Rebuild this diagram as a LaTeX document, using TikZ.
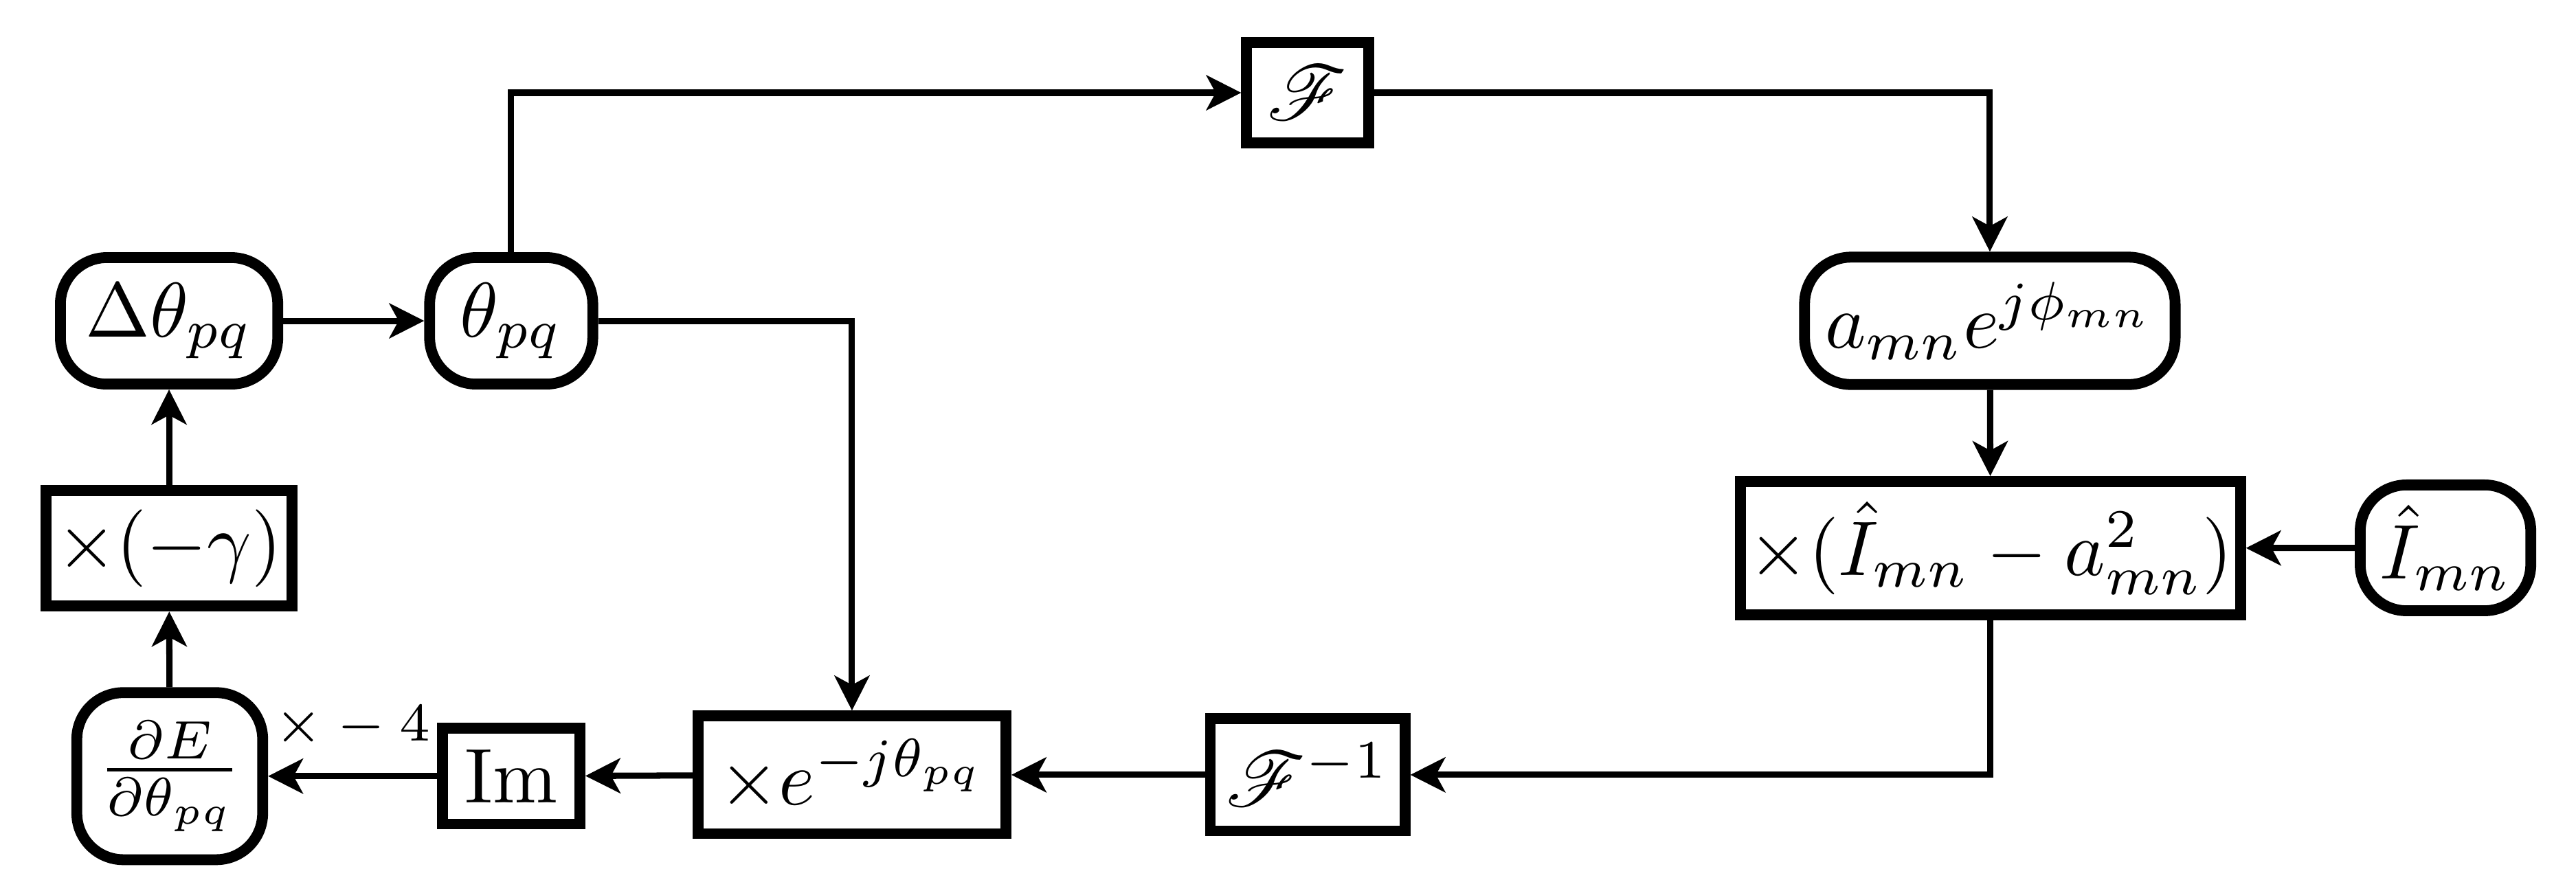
\documentclass[tikz,border=0pt]{standalone}
\usepackage{mathrsfs}
\usetikzlibrary{arrows.meta}

\tikzset{
 blk/.style={draw, line width=1.4pt, inner sep=1pt},
 rblk/.style={blk, rounded corners=6pt},
 flow/.style={line width=0.8pt, -{Stealth[length=4.5pt,width=4.5pt,inset=1.2pt]}},
}

\begin{document}
\begin{tikzpicture}
 \useasboundingbox (0,0) rectangle (11.686,4.043);
 % upper row
 \node[rblk, minimum width=0.986cm, minimum height=0.574cm] (dtheta) at (0.767,2.587) {$\Delta\theta_{pq}$};
 \node[rblk, minimum width=0.740cm, minimum height=0.574cm] (theta) at (2.319,2.587) {$\theta_{pq}$};
 \node[blk, minimum width=0.553cm, minimum height=0.456cm] (F) at (5.932,3.622) {$\mathscr{F}$};
 \node[rblk, minimum width=1.681cm, minimum height=0.578cm] (amp) at (9.027,2.587) {$a_{mn}e^{j\phi_{mn}}$};
 % middle row
 \node[blk, minimum width=1.114cm, minimum height=0.525cm] (gain) at (0.767,1.555) {$\times(-\gamma)$};
 \node[blk, minimum width=2.223cm, minimum height=0.606cm] (mult) at (9.030,1.555) {$\times(\hat{I}_{mn}-a_{mn}^2)$};
 \node[rblk, minimum width=0.774cm, minimum height=0.571cm] (Imeas) at (11.094,1.557) {$\hat{I}_{mn}$};
 % lower row
 \node[rblk, minimum width=0.843cm, minimum height=0.758cm] (grad) at (0.770,0.521) {$\frac{\partial E}{\partial\theta_{pq}}$};
 \node[blk, minimum width=0.624cm, minimum height=0.434cm] (Im) at (2.319,0.521) {Im};
 \node[blk, minimum width=1.397cm, minimum height=0.534cm] (expo) at (3.865,0.527) {$\times e^{-j\theta_{pq}}$};
 \node[blk, minimum width=0.883cm, minimum height=0.509cm] (Finv) at (5.932,0.527) {$\mathscr{F}^{-1}$};

 \draw[flow] (dtheta) -- (theta);
 \draw[flow] (theta.north) |- (F.west);
 \draw[flow] (F.east) -| (amp.north);
 \draw[flow] (amp) -- (mult);
 \draw[flow] (Imeas) -- (mult);
 \draw[flow] (mult.south) |- (Finv.east);
 \draw[flow] (Finv) -- (expo);
 \draw[flow] (theta.east) -| (expo.north);
 \draw[flow] (expo) -- (Im);
 \draw[flow] (Im) -- node[above,font=\scriptsize]{$\times - 4$} (grad);
 \draw[flow] (grad) -- (gain);
 \draw[flow] (gain) -- (dtheta);
\end{tikzpicture}
\end{document}
